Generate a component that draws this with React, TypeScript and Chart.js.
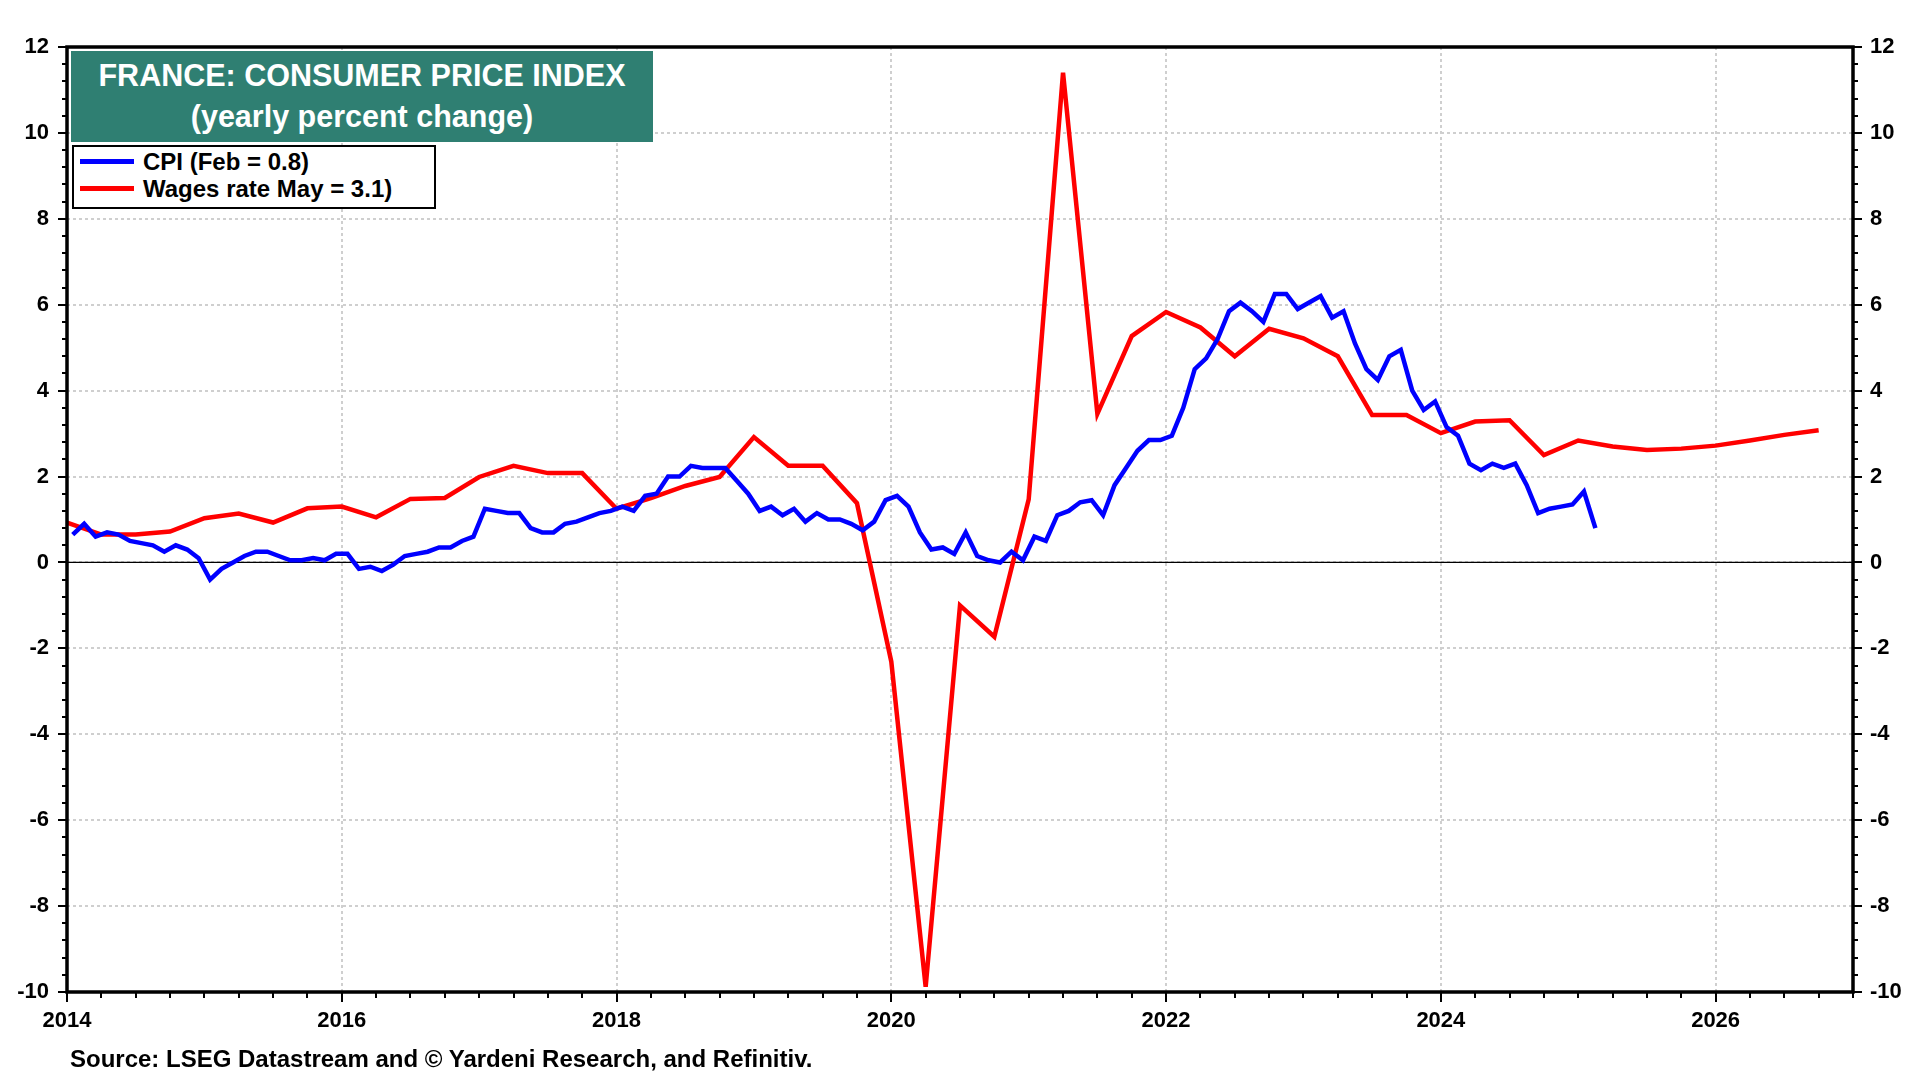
import React, { useEffect, useRef } from "react";
import { Chart, registerables } from "chart.js";

Chart.register(...registerables);

// ---------- DATA ----------
const cpiStartYear = 2014; // monthly, starting January
const cpi2014 = [0.65, 0.9, 0.6, 0.7, 0.65, 0.5, 0.45, 0.4, 0.25, 0.4, 0.3, 0.1];
const cpi2015 = [-0.4, -0.15, 0.0, 0.15, 0.25, 0.25, 0.15, 0.05, 0.05, 0.1, 0.05, 0.2];
const cpi2016 = [0.2, -0.15, -0.1, -0.2, -0.05, 0.15, 0.2, 0.25, 0.35, 0.35, 0.5, 0.6];
const cpi2017 = [1.25, 1.2, 1.15, 1.15, 0.8, 0.7, 0.7, 0.9, 0.95, 1.05, 1.15, 1.2];
const cpi2018 = [1.3, 1.2, 1.55, 1.6, 2.0, 2.0, 2.25, 2.2, 2.2, 2.2, 1.9, 1.6];
const cpi2019 = [1.2, 1.3, 1.1, 1.25, 0.95, 1.15, 1.0, 1.0, 0.9, 0.75, 0.95, 1.45];
const cpi2020 = [1.55, 1.3, 0.7, 0.3, 0.35, 0.2, 0.7, 0.15, 0.05, 0.0, 0.25, 0.05];
const cpi2021 = [0.6, 0.5, 1.1, 1.2, 1.4, 1.45, 1.1, 1.8, 2.2, 2.6, 2.85, 2.85];
const cpi2022 = [2.95, 3.6, 4.5, 4.75, 5.2, 5.85, 6.05, 5.85, 5.6, 6.25, 6.25, 5.9];
const cpi2023 = [6.05, 6.2, 5.7, 5.85, 5.1, 4.5, 4.25, 4.8, 4.95, 4.0, 3.55, 3.75];
const cpi2024 = [3.15, 2.95, 2.3, 2.15, 2.3, 2.2, 2.3, 1.8, 1.15, 1.25, 1.3, 1.35];
const cpi2025 = [1.65, 0.8];

const wagesStartYear = 2014; // quarterly
const wagesValues = [
  0.93, 0.65, 0.65, 0.72,
  1.03, 1.14, 0.93, 1.26,
  1.3, 1.05, 1.48, 1.5,
  1.99, 2.25, 2.08, 2.08,
  1.25, 1.5, 1.78, 1.99,
  2.92, 2.25, 2.25, 1.38,
  -2.31, -9.88, -1.0, -1.73,
  1.47, 11.4, 3.46, 5.27,
  5.83, 5.47, 4.8, 5.44,
  5.22, 4.8, 3.43, 3.43,
  3.01, 3.28, 3.31, 2.5,
  2.84, 2.7, 2.62, 2.65,
  2.72, 2.84, 2.97, 3.08,
];

const xMin = 2014;
const xMax = 2027;
const yMin = -10;
const yMax = 12;

const titleLine1 = "FRANCE: CONSUMER PRICE INDEX";
const titleLine2 = "(yearly percent change)";
const legendCpi = "CPI (Feb = 0.8)";
const legendWages = "Wages rate May = 3.1)";
const sourceText = "Source: LSEG Datastream and \u00A9 Yardeni Research, and Refinitiv.";

const FONT = "'Liberation Sans', Arial, Helvetica, sans-serif";

const cpiValues = [
  ...cpi2014, ...cpi2015, ...cpi2016, ...cpi2017, ...cpi2018, ...cpi2019,
  ...cpi2020, ...cpi2021, ...cpi2022, ...cpi2023, ...cpi2024, ...cpi2025,
];

const framePlugin = {
  id: "frameTicks",
  beforeDatasetsDraw(chart: any) {
    const { ctx, chartArea: a, scales } = chart;
    const y0 = scales.y.getPixelForValue(0);
    ctx.save();
    ctx.strokeStyle = "#000";
    ctx.lineWidth = 1.3;
    ctx.beginPath();
    ctx.moveTo(a.left, y0);
    ctx.lineTo(a.right, y0);
    ctx.stroke();
    ctx.restore();
  },
  afterDraw(chart: any) {
    const { ctx, chartArea: a, scales } = chart;
    ctx.save();
    ctx.strokeStyle = "#000";
    ctx.lineWidth = 2;
    // y-axis ticks (major every 2, minor every 0.4), both sides
    const steps = Math.round((yMax - yMin) / 0.4);
    for (let i = 0; i <= steps; i++) {
      const v = yMin + i * 0.4;
      const py = Math.round(scales.y.getPixelForValue(v));
      const len = i % 5 === 0 ? 9 : 5;
      ctx.beginPath();
      ctx.moveTo(a.left - len, py);
      ctx.lineTo(a.left, py);
      ctx.moveTo(a.right, py);
      ctx.lineTo(a.right + len, py);
      ctx.stroke();
    }
    // x-axis ticks (major every 2 years, minor each quarter)
    const qSteps = Math.round((xMax - xMin) * 4);
    for (let i = 0; i <= qSteps; i++) {
      const v = xMin + i * 0.25;
      const px = Math.round(scales.x.getPixelForValue(v));
      const len = i % 8 === 0 ? 10 : 6;
      ctx.beginPath();
      ctx.moveTo(px, a.bottom);
      ctx.lineTo(px, a.bottom + len);
      ctx.stroke();
    }
    ctx.lineWidth = 3.5;
    ctx.strokeRect(a.left, a.top, a.right - a.left, a.bottom - a.top);
    ctx.restore();
  },
};

export default function App() {
  const ref = useRef<HTMLCanvasElement | null>(null);

  useEffect(() => {
    const canvas = ref.current;
    if (!canvas) return;
    const cpiData = cpiValues.map((v, i) => ({ x: cpiStartYear + (i + 0.5) / 12, y: v }));
    const wagesData = wagesValues.map((v, i) => ({ x: wagesStartYear + i * 0.25, y: v }));

    const gridColor = "#cfcfcf";
    const chart = new Chart(canvas, {
      type: "line",
      data: {
        datasets: [
          {
            label: legendCpi,
            data: cpiData,
            borderColor: "#0000ff",
            backgroundColor: "#0000ff",
            borderWidth: 4.5,
            pointRadius: 0,
            tension: 0,
            yAxisID: "y",
          },
          {
            label: legendWages,
            data: wagesData,
            borderColor: "#ff0000",
            backgroundColor: "#ff0000",
            borderWidth: 4.5,
            pointRadius: 0,
            tension: 0,
            yAxisID: "y",
          },
        ],
      },
      options: {
        animation: false,
        responsive: false,
        devicePixelRatio: 1,
        maintainAspectRatio: false,
        layout: { padding: { top: 47, left: 0, right: 0, bottom: 0 } },
        plugins: {
          legend: { display: false },
          tooltip: { enabled: false },
        },
        scales: {
          x: {
            type: "linear",
            min: xMin,
            max: xMax,
            afterFit: (s: any) => {
              s.height = 88;
            },
            ticks: {
              stepSize: 1,
              autoSkip: false,
              maxRotation: 0,
              padding: 16,
              color: "#000",
              font: { family: FONT, size: 22, weight: "bold" },
              callback: (v: any) => (Number(v) % 2 === 0 ? String(v) : ""),
            },
            grid: {
              drawTicks: false,
              lineWidth: 2,
              color: (c: any) =>
                c.tick && Number(c.tick.value) % 2 === 0 ? gridColor : "rgba(0,0,0,0)",
            },
            border: { display: false, dash: [3, 3] },
          },
          y: {
            type: "linear",
            position: "left",
            min: yMin,
            max: yMax,
            afterFit: (s: any) => {
              s.width = 67;
            },
            ticks: {
              stepSize: 2,
              padding: 18,
              color: "#000",
              font: { family: FONT, size: 22, weight: "bold" },
            },
            grid: { drawTicks: false, lineWidth: 2, color: gridColor },
            border: { display: false, dash: [3, 3] },
          },
          y2: {
            type: "linear",
            position: "right",
            min: yMin,
            max: yMax,
            afterFit: (s: any) => {
              s.width = 67;
            },
            ticks: {
              stepSize: 2,
              padding: 17,
              color: "#000",
              font: { family: FONT, size: 22, weight: "bold" },
            },
            grid: { drawTicks: false, drawOnChartArea: false },
            border: { display: false },
          },
        },
      },
      plugins: [framePlugin],
    } as any);
    return () => chart.destroy();
  }, []);

  return (
    <div
      style={{
        position: "fixed",
        left: 0,
        top: 0,
        width: 1920,
        height: 1080,
        background: "#fff",
        fontFamily: FONT,
        overflow: "hidden",
      }}
    >
      <canvas
        ref={ref}
        width={1920}
        height={1080}
        style={{ position: "absolute", left: 0, top: 0, width: 1920, height: 1080 }}
      />
      <div
        style={{
          position: "absolute",
          left: 71,
          top: 51,
          width: 582,
          height: 91,
          background: "#2f7f72",
          color: "#fff",
          fontWeight: "bold",
          fontSize: 30.5,
          textAlign: "center",
          lineHeight: "41px",
          paddingTop: 4,
          boxSizing: "border-box",
          whiteSpace: "nowrap",
        }}
      >
        <div>{titleLine1}</div>
        <div>{titleLine2}</div>
      </div>
      <div
        style={{
          position: "absolute",
          left: 72,
          top: 145,
          width: 364,
          height: 64,
          background: "#fff",
          border: "2.5px solid #000",
          boxSizing: "border-box",
          fontWeight: "bold",
          fontSize: 24,
          color: "#000",
        }}
      >
        {[
          { c: "#0000ff", t: legendCpi, y: 17 },
          { c: "#ff0000", t: legendWages, y: 44 },
        ].map((e) => (
          <div key={e.t}>
            <div
              style={{
                position: "absolute",
                left: 6,
                top: e.y - 5,
                width: 54,
                height: 5,
                background: e.c,
              }}
            />
            <div
              style={{
                position: "absolute",
                left: 69,
                top: e.y - 16,
                lineHeight: "27px",
                whiteSpace: "nowrap",
              }}
            >
              {e.t}
            </div>
          </div>
        ))}
      </div>
      <div
        style={{
          position: "absolute",
          left: 70,
          top: 1045,
          fontWeight: "bold",
          fontSize: 24,
          lineHeight: "28px",
          color: "#000",
          whiteSpace: "nowrap",
        }}
      >
        {sourceText}
      </div>
    </div>
  );
}
